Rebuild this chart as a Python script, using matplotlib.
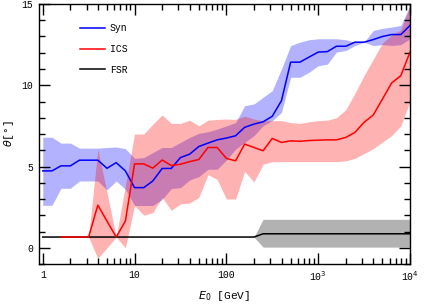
import numpy as np
import matplotlib
matplotlib.use("Agg")
import matplotlib.pyplot as plt
from matplotlib.ticker import LogLocator, FixedLocator, MultipleLocator, NullFormatter

nan = np.nan

# photon energy grid [GeV]
E0 = [1, 1.26, 1.58, 2.0, 2.51, 3.16, 3.98, 5.01, 6.31, 7.94,
      10, 12.6, 15.8, 20, 25.1, 31.6, 39.8, 50.1, 63.1, 79.4,
      100, 126, 158, 200, 251, 316, 398, 501, 631, 794,
      1000, 1260, 1580, 2000, 2510, 3160, 3980, 5010, 6310, 7940, 10000]

syn = [4.73, 4.73, 5.04, 5.04, 5.39, 5.39, 5.39, 4.89, 5.24, 4.73,
       3.70, 3.70, 4.11, 4.88, 4.88, 5.55, 5.76, 6.23, 6.44, 6.64,
       6.75, 6.89, 7.41, 7.61, 7.75, 8.09, 9.05, 11.42, 11.42, 11.73,
       12.04, 12.07, 12.4, 12.4, 12.65, 12.65, 12.81, 13.0, 13.12, 13.12, 13.68]
syn_hi = [6.8, 6.8, 6.44, 6.44, 6.13, 6.13, 6.13, 6.17, 6.2, 6.1,
          5.5, 5.55, 5.86, 6.17, 6.17, 6.48, 6.79, 7.04, 7.14, 7.3,
          7.5, 7.7, 8.74, 8.85, 9.26, 9.67, 11.0, 12.44, 12.65, 12.8,
          12.86, 12.86, 12.86, 12.8, 12.65, 12.65, 13.37, 13.5, 13.58, 13.68, 14.9]
syn_lo = [2.61, 2.61, 3.66, 3.66, 4.11, 4.11, 4.11, 3.56, 4.11, 3.6,
          2.6, 2.6, 2.6, 2.98, 3.64, 3.7, 4.17, 4.38, 4.83, 4.83,
          5.4, 6.07, 6.48, 6.9, 7.51, 7.82, 8.33, 10.49, 10.49, 10.8,
          11.2, 11.3, 12.04, 12.14, 12.44, 12.65, 12.44, 12.5, 12.45, 12.5, 12.86]

ics = [nan, nan, 0.66, 0.66, 0.66, 0.66, 2.62, 1.64, 0.66, 1.64,
       5.16, 5.16, 4.9, 5.4, 5.06, 5.14, 5.3, 5.43, 6.17, 6.17,
       5.5, 5.35, 6.38, 6.17, 5.97, 6.73, 6.48, 6.58, 6.55, 6.6,
       6.62, 6.64, 6.64, 6.79, 7.1, 7.72, 8.17, 9.15, 10.14, 10.59, 12.04]
ics_hi = [nan, nan, 0.66, 0.66, 0.66, 0.66, 6.07, 3.4, 0.66, 3.8,
          7.0, 7.0, 7.6, 8.17, 7.65, 7.65, 7.85, 7.5, 7.85, 7.9,
          7.92, 7.9, 8.1, 7.92, 7.82, 7.82, 7.82, 7.7, 7.65, 7.75,
          7.82, 7.85, 8.0, 8.5, 9.5, 10.6, 11.6, 12.6, 13.1, 13.4, 14.9]
ics_lo = [nan, nan, 0.66, 0.66, 0.66, 0.66, -0.65, 0.0, 0.66, 0.0,
          2.6, 2.0, 2.16, 3.1, 2.3, 2.7, 2.75, 3.1, 4.5, 4.2,
          3.0, 3.0, 4.7, 4.05, 5.14, 5.29, 5.3, 5.3, 5.3, 5.3,
          5.3, 5.3, 5.3, 5.35, 5.5, 5.8, 6.1, 6.5, 6.9, 7.5, 9.0]

fsr = [0.66] * 24 + [0.86] * 17
fsr_hi = [0.66] * 24 + [1.75] * 17
fsr_lo = [0.66] * 24 + [0.04] * 17

mono = "Liberation Mono"

fig = plt.figure(figsize=(4.36, 3.07), dpi=100)
ax = fig.add_axes([0.0894, 0.140, 0.851, 0.847])

ax.fill_between(E0, fsr_lo, fsr_hi, color="black", alpha=0.3, lw=0)
ax.fill_between(E0, syn_lo, syn_hi, color="blue", alpha=0.3, lw=0)
ax.fill_between(E0, ics_lo, ics_hi, color="red", alpha=0.3, lw=0)
ax.plot(E0, fsr, color="black", lw=1.1, label="FSR")
ax.plot(E0, syn, color="blue", lw=1.1, label="Syn")
ax.plot(E0, ics, color="red", lw=1.1, label="ICS")

ax.set_xscale("log")
ax.set_xlim(0.91, 1e4)
ax.set_ylim(-1, 15)

ax.xaxis.set_major_locator(FixedLocator([1, 10, 100, 1000, 10000]))
ax.xaxis.set_minor_locator(LogLocator(base=10, subs=np.arange(2, 10), numticks=20))
ax.xaxis.set_minor_formatter(NullFormatter())
ax.set_xticklabels(["1", "10", "100", r"10$^3$", r"10$^4$"], family=mono, fontsize=7)
ax.yaxis.set_major_locator(MultipleLocator(5))
ax.yaxis.set_minor_locator(MultipleLocator(1))
ax.set_yticks([0, 5, 10, 15])
ax.set_yticklabels(["0", "5", "10", "15"], family=mono, fontsize=7)
ax.tick_params(which="both", direction="in", top=True, right=True, width=1.0)
ax.tick_params(which="major", length=8, pad=4)
ax.tick_params(which="minor", length=4)
for s in ax.spines.values():
    s.set_linewidth(1.0)

ax.set_xlabel(r"$E_0$ [GeV]", family=mono, fontsize=8, labelpad=4)
ax.set_ylabel(r"$\theta$[°]", family=mono, fontsize=8)
ax.yaxis.set_label_coords(-0.062, 0.5)

h, l = ax.get_legend_handles_labels()
order = [1, 2, 0]
ax.legend([h[i] for i in order], [l[i] for i in order], loc="upper left",
          bbox_to_anchor=(0.1105, 0.925), frameon=False, prop={"family": mono, "size": 7},
          handlelength=2.6, labelspacing=1.1, handletextpad=0.45,
          borderpad=0, borderaxespad=0)

fig.savefig("out.png", dpi=100)
